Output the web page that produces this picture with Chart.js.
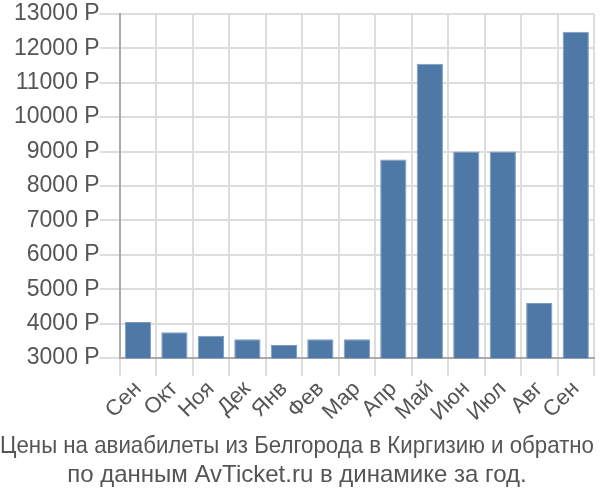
<!DOCTYPE html>
<html>
<head>
<meta charset="utf-8">
<script src="https://cdn.jsdelivr.net/npm/chart.js@4"></script>
<style>
  body { margin: 0; background: #fff; }
  #wrap { width: 600px; height: 500px; }
</style>
</head>
<body>
<div id="wrap"><canvas id="chart"></canvas></div>
<script>
const months = ["Сен", "Окт", "Ноя", "Дек", "Янв", "Фев", "Мар", "Апр", "Май", "Июн", "Июл", "Авг", "Сен"];
const prices = [4050, 3750, 3650, 3550, 3380, 3550, 3550, 8770, 11550, 9000, 9000, 4600, 12480];
const titleLines = ["Цены на авиабилеты из Белгорода в Киргизию и обратно", "по данным AvTicket.ru в динамике за год."];

Chart.defaults.font.family = "'Liberation Sans', Arial, sans-serif";
Chart.defaults.color = "#555";

new Chart(document.getElementById("chart"), {
    type: "bar",
    data: {
        labels: months,
        datasets: [
            {
                label: "Р",
                data: prices,
                backgroundColor: "#4e79a7",
                borderColor: "#7d9cc3",
                borderWidth: 1,
                barPercentage: 0.72,
                categoryPercentage: 1
            }
        ]
    },
    options: {
        responsive: true,
        maintainAspectRatio: false,
        animation: false,
        layout: { padding: { top: 7, right: 6, left: 0, bottom: 10 } },
        scales: {
            x: {
                offset: true,
                grid: { color: "#ddd", lineWidth: 2, offset: true, tickLength: 18 },
                border: { color: "#aaa", width: 2 },
                ticks: { font: { size: 22 }, maxRotation: 45, minRotation: 45, padding: 0, autoSkip: false },
                afterFit: function (scale) { scale.height += 2; }
            },
            y: {
                min: 3000,
                max: 13000,
                grid: { color: "#ddd", lineWidth: 2, tickLength: 20 },
                border: { color: "#aaa", width: 2 },
                ticks: {
                    stepSize: 1000,
                    font: { size: 23 },
                    padding: 0,
                    callback: function (v) { return v + " Р"; }
                },
                afterFit: function (scale) { scale.width += 14; }
            }
        },
        plugins: {
            legend: { display: false },
            tooltip: { enabled: false },
            title: {
                display: true,
                position: "bottom",
                text: titleLines,
                color: "#555",
                font: { size: 24, weight: "normal" },
                padding: { top: 4, bottom: 0 }
            }
        }
    }
});
</script>
</body>
</html>
